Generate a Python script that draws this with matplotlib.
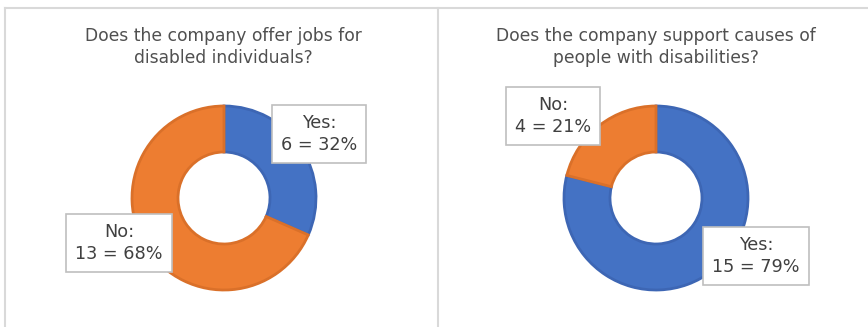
import matplotlib
matplotlib.use("Agg")
import matplotlib.pyplot as plt
from matplotlib.lines import Line2D

titles = ["Does the company offer jobs for\ndisabled individuals?",
          "Does the company support causes of\npeople with disabilities?"]
categories = ["Yes", "No"]
values_left = [6, 13]
values_right = [15, 4]
blue = "#4472C4"
orange = "#ED7D31"
blue_edge = "#3D66B4"
orange_edge = "#DA7029"

W, H = 868, 327
fig = plt.figure(figsize=(W / 100, H / 100), dpi=100)
ax = fig.add_axes([0, 0, 1, 1])
ax.set_xlim(0, W)
ax.set_ylim(0, H)
ax.set_aspect("equal")
ax.axis("off")

def Y(y):
    return H - y

# frame lines
frame_c = "#D9D9D9"
ax.add_line(Line2D([5, 5], [Y(8), Y(327)], color=frame_c, lw=1.5))
ax.add_line(Line2D([5, 868], [Y(8), Y(8)], color=frame_c, lw=1.5))
ax.add_line(Line2D([438, 438], [Y(8), Y(327)], color=frame_c, lw=1.5))

title_kw = dict(ha="center", va="center", fontsize=12.3, color="#505050",
                family="DejaVu Sans", linespacing=1.25)
ax.text(223, Y(47), titles[0], **title_kw)
ax.text(656, Y(47), titles[1], **title_kw)

def donut(values, center, label_pos):
    total = sum(values)
    cols = [blue, orange]
    ecols = [blue_edge, orange_edge]
    wedges, _ = ax.pie(values, center=center, radius=92, startangle=90,
                       counterclock=False, colors=cols,
                       wedgeprops=dict(width=46, linewidth=2.0))
    for w, ec in zip(wedges, ecols):
        w.set_edgecolor(ec)
    for cat, v, pos in zip(categories, values, label_pos):
        pct = round(100 * v / total)
        ax.text(pos[0], pos[1], f"{cat}:\n{v} = {pct}%", ha="center", va="center",
                fontsize=12.7, color="#404040", family="DejaVu Sans", linespacing=1.25,
                bbox=dict(boxstyle="square,pad=0.5", fc="white", ec="#BFBFBF", lw=1.2))

donut(values_left, (224, Y(198)), [(319, Y(134)), (119, Y(243))])
donut(values_right, (656, Y(198)), [(756, Y(256)), (553, Y(116))])

ax.set_xlim(0, W)
ax.set_ylim(0, H)
fig.savefig("out.png", dpi=100, facecolor="white")
